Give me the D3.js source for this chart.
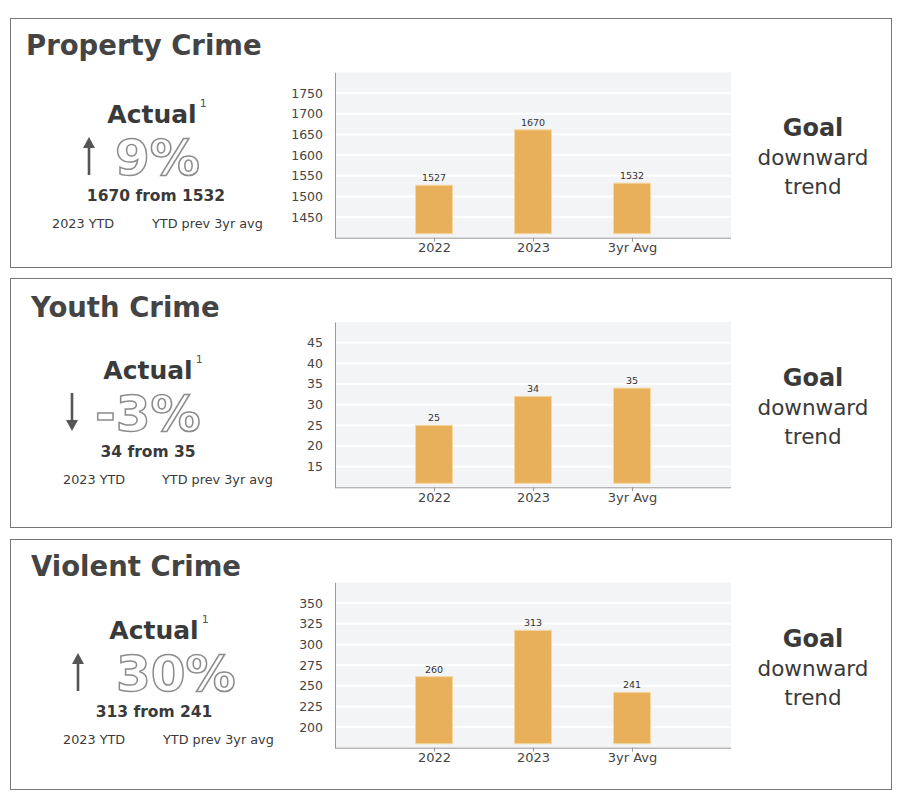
<!DOCTYPE html>
<html lang="en">
<head>
<meta charset="UTF-8">
<script src="https://d3js.org/d3.v7.min.js"></script>
<style>
  body { margin: 0; background: #fff; }
  svg { display: block; font-family: "DejaVu Sans", sans-serif; }
  .title { font-size: 27.5px; font-weight: 700; fill: #444; }
  .actual { font-size: 25px; font-weight: 700; fill: #3a3a3a; }
  .sup { font-size: 11px; fill: #555; }
  .pct { font-size: 50px; font-weight: 700; fill: #fff; stroke: #8c8c8c; stroke-width: 1.5px; }
  .compare { font-size: 15.5px; font-weight: 700; fill: #3a3a3a; }
  .small { font-size: 12.8px; fill: #3a3a3a; }
  .goal { font-size: 24px; font-weight: 700; fill: #3a3a3a; }
  .goalsub { font-size: 21.5px; fill: #3a3a3a; }
  .axis text { font-size: 12.5px; fill: #444; font-family: "DejaVu Sans", sans-serif; }
  .xaxis text { font-size: 13px; }
  .vlabel { font-size: 9.5px; fill: #333; }
</style>
<title>Crime dashboard</title>
</head>
<body>
<svg id="chart" width="900" height="794"></svg>
<script>
// data
var panelTitles = ["Property Crime", "Youth Crime", "Violent Crime"];
var categories = ["2022", "2023", "3yr Avg"];
var barValues = [[1527, 1661, 1532], [25, 32, 34], [261, 317, 242]];
var barLabels = [["1527", "1670", "1532"], ["25", "34", "35"], ["260", "313", "241"]];
var yDomains = [[1400, 1800], [10, 50], [175, 375]];
var yTicks = [
    [1450, 1500, 1550, 1600, 1650, 1700, 1750],
    [15, 20, 25, 30, 35, 40, 45],
    [200, 225, 250, 275, 300, 325, 350]
];
var pctText = ["9%", "-3%", "30%"];
var arrowDir = ["up", "down", "up"];
var compareText = ["1670 from 1532", "34 from 35", "313 from 241"];
var ytdLabels = ["2023 YTD", "YTD prev 3yr avg"];
var goalLines = ["Goal", "downward", "trend"];

// layout of each panel (absolute positions)
var layout = [
    { top: 18, h: 249, titleX: 26, titleY: 55, leftY: 123, actX: 152, cmpX: 156, arrowX: 89, pctX: 115, goalY: 136, axisY: 237.7 },
    { top: 278, h: 249, titleX: 31, titleY: 317, leftY: 379, actX: 148, cmpX: 148, arrowX: 72, pctX: 95, goalY: 386, axisY: 487.3 },
    { top: 539, h: 250, titleX: 31, titleY: 576, leftY: 639, actX: 154, cmpX: 154, arrowX: 78, pctX: 116, goalY: 647, axisY: 747.7 }
];
var ytdX = [[52, 152], [63, 162], [63, 163]];

var svg = d3.select("#chart");
var plotLeft = 335, plotRight = 731, plotH = 165.3;

var x = d3.scalePoint().domain(categories).range([plotLeft, plotRight]).padding(1);

layout.forEach(function (L, i) {
    var g = svg.append("g");

    g.append("rect")
        .attr("x", 10.5).attr("y", L.top + 0.5)
        .attr("width", 881).attr("height", L.h)
        .attr("fill", "none").attr("stroke", "#777").attr("stroke-width", 1);

    g.append("text").attr("class", "title")
        .attr("x", L.titleX).attr("y", L.titleY).text(panelTitles[i]);

    // left block
    var act = g.append("text").attr("class", "actual")
        .attr("x", L.actX).attr("y", L.leftY).attr("text-anchor", "middle").text("Actual");
    var aw = act.node().getComputedTextLength();
    g.append("text").attr("class", "sup")
        .attr("x", L.actX + aw / 2 + 3).attr("y", L.leftY - 16).text("1");

    g.append("text").attr("class", "pct")
        .attr("x", L.pctX).attr("y", L.leftY + 52).text(pctText[i]);

    // arrow
    var ax = L.arrowX, aTop = L.leftY + 14, aBot = L.leftY + 52;
    var up = arrowDir[i] === "up";
    var tipY = up ? aTop : aBot;
    var tailY = up ? aBot : aTop;
    var dir = up ? 1 : -1;
    g.append("line")
        .attr("x1", ax).attr("x2", ax)
        .attr("y1", tipY + dir * 8).attr("y2", tailY)
        .attr("stroke", "#555").attr("stroke-width", 2.6);
    g.append("path")
        .attr("d", "M" + (ax - 6) + "," + (tipY + dir * 11) + " L" + ax + "," + tipY + " L" + (ax + 6) + "," + (tipY + dir * 11) + " Z")
        .attr("fill", "#555");

    g.append("text").attr("class", "compare")
        .attr("x", L.cmpX).attr("y", L.leftY + 78).attr("text-anchor", "middle").text(compareText[i]);

    ytdLabels.forEach(function (t, k) {
        g.append("text").attr("class", "small")
            .attr("x", ytdX[i][k]).attr("y", L.leftY + 105).text(t);
    });

    // goal
    goalLines.forEach(function (t, k) {
        g.append("text").attr("class", k === 0 ? "goal" : "goalsub")
            .attr("x", 813).attr("y", L.goalY + 29 * k).attr("text-anchor", "middle").text(t);
    });

    // chart
    var y = d3.scaleLinear().domain(yDomains[i]).range([L.axisY, L.axisY - plotH]);

    g.append("rect")
        .attr("x", plotLeft).attr("y", L.axisY - plotH)
        .attr("width", plotRight - plotLeft).attr("height", plotH)
        .attr("fill", "#f3f4f6");

    g.selectAll(".grid").data(yTicks[i]).enter().append("line")
        .attr("x1", plotLeft).attr("x2", plotRight)
        .attr("y1", function (d) { return y(d); })
        .attr("y2", function (d) { return y(d); })
        .attr("stroke", "#fff").attr("stroke-width", 2);

    var bw = 37;
    g.selectAll(".bar").data(barValues[i]).enter().append("rect")
        .attr("x", function (d, j) { return x(categories[j]) - bw / 2; })
        .attr("y", function (d) { return y(d); })
        .attr("width", bw)
        .attr("height", function (d) { return L.axisY - 4 - y(d); })
        .attr("fill", "#e8b05a")
        .attr("stroke", "#f4d7a4").attr("stroke-width", 1);

    g.selectAll(".vlabel").data(barValues[i]).enter().append("text")
        .attr("class", "vlabel")
        .attr("x", function (d, j) { return x(categories[j]); })
        .attr("y", function (d) { return y(d) - 4; })
        .attr("text-anchor", "middle")
        .text(function (d, j) { return barLabels[i][j]; });

    var yAxis = g.append("g").attr("class", "axis")
        .attr("transform", "translate(" + plotLeft + ",0)")
        .call(d3.axisLeft(y).tickValues(yTicks[i]).tickFormat(d3.format("d")).tickSize(0).tickPadding(12));
    yAxis.select(".domain").attr("stroke", "#999");

    var xAxis = g.append("g").attr("class", "axis xaxis")
        .attr("transform", "translate(0," + L.axisY + ")")
        .call(d3.axisBottom(x).tickSize(4).tickPadding(1));
    xAxis.select(".domain").attr("stroke", "#999").attr("d", "M" + plotLeft + ",0.5H" + plotRight);
    xAxis.selectAll(".tick line").attr("stroke", "#999");
});
</script>
</body>
</html>
